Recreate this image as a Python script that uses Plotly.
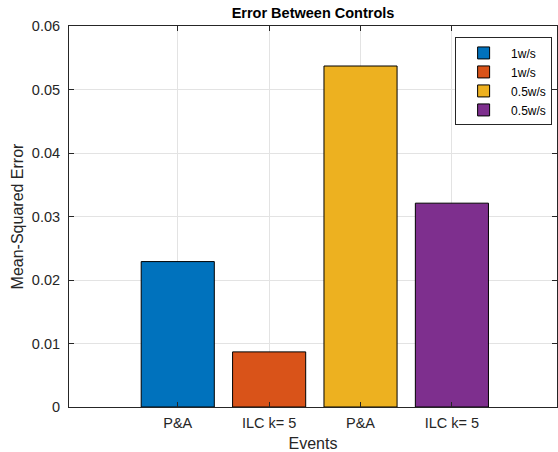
import plotly.graph_objects as go

categories = ["P&A", "ILC k= 5", "P&A", "ILC k= 5"]
positions = [1, 2, 3, 4]
values = [0.0229, 0.00868, 0.0537, 0.0321]
series_names = ["1w/s", "1w/s", "0.5w/s", "0.5w/s"]
colors = ["#0072BD", "#D95319", "#EDB120", "#7E2F8E"]
y_ticks = [0, 0.01, 0.02, 0.03, 0.04, 0.05, 0.06]
y_ticklabels = ["0", "0.01", "0.02", "0.03", "0.04", "0.05", "0.06"]

fig = go.Figure()
for p, v, n, c in zip(positions, values, series_names, colors):
    fig.add_trace(go.Bar(x=[p], y=[v], name=n, width=0.8,
                         marker=dict(color=c, line=dict(color="#000000", width=1))))

axis_common = dict(showline=True, linecolor="#262626", linewidth=1, mirror="allticks",
                   ticks="inside", ticklen=5, tickcolor="#262626",
                   showgrid=True, gridcolor="#e3e3e3", gridwidth=1, zeroline=False,
                   tickfont=dict(family="Liberation Sans, Arial", size=14.5, color="#262626"))

fig.update_layout(
    width=558, height=452,
    margin=dict(l=69, r=1, t=26, b=45),
    plot_bgcolor="white", paper_bgcolor="white",
    barmode="overlay",
    font=dict(family="Liberation Sans, Arial", size=14, color="#262626"),
    title=dict(text="<b>Error Between Controls</b>", xref="paper", x=0.5, xanchor="center",
               yref="container", y=0.983, yanchor="top", font=dict(size=14.5, color="#000000")),
    xaxis=dict(range=[-0.19, 5.15], tickvals=positions, ticktext=categories,
               ticklabelstandoff=3,
               title=dict(text="Events", standoff=7, font=dict(size=16)), **axis_common),
    yaxis=dict(range=[0, 0.06], tickvals=y_ticks, ticktext=y_ticklabels,
               ticklabelstandoff=5,
               title=dict(text="Mean-Squared Error", standoff=4, font=dict(size=16)), **axis_common),
    legend=dict(x=0.99, xanchor="right", y=0.97, yanchor="top",
                bordercolor="#262626", borderwidth=1, bgcolor="white",
                font=dict(size=12, color="#000000"), itemwidth=45,
                tracegroupgap=0),
    showlegend=True,
)

fig.write_html("out.html", config={"displayModeBar": False},
               post_script="document.body.style.margin='0';")
